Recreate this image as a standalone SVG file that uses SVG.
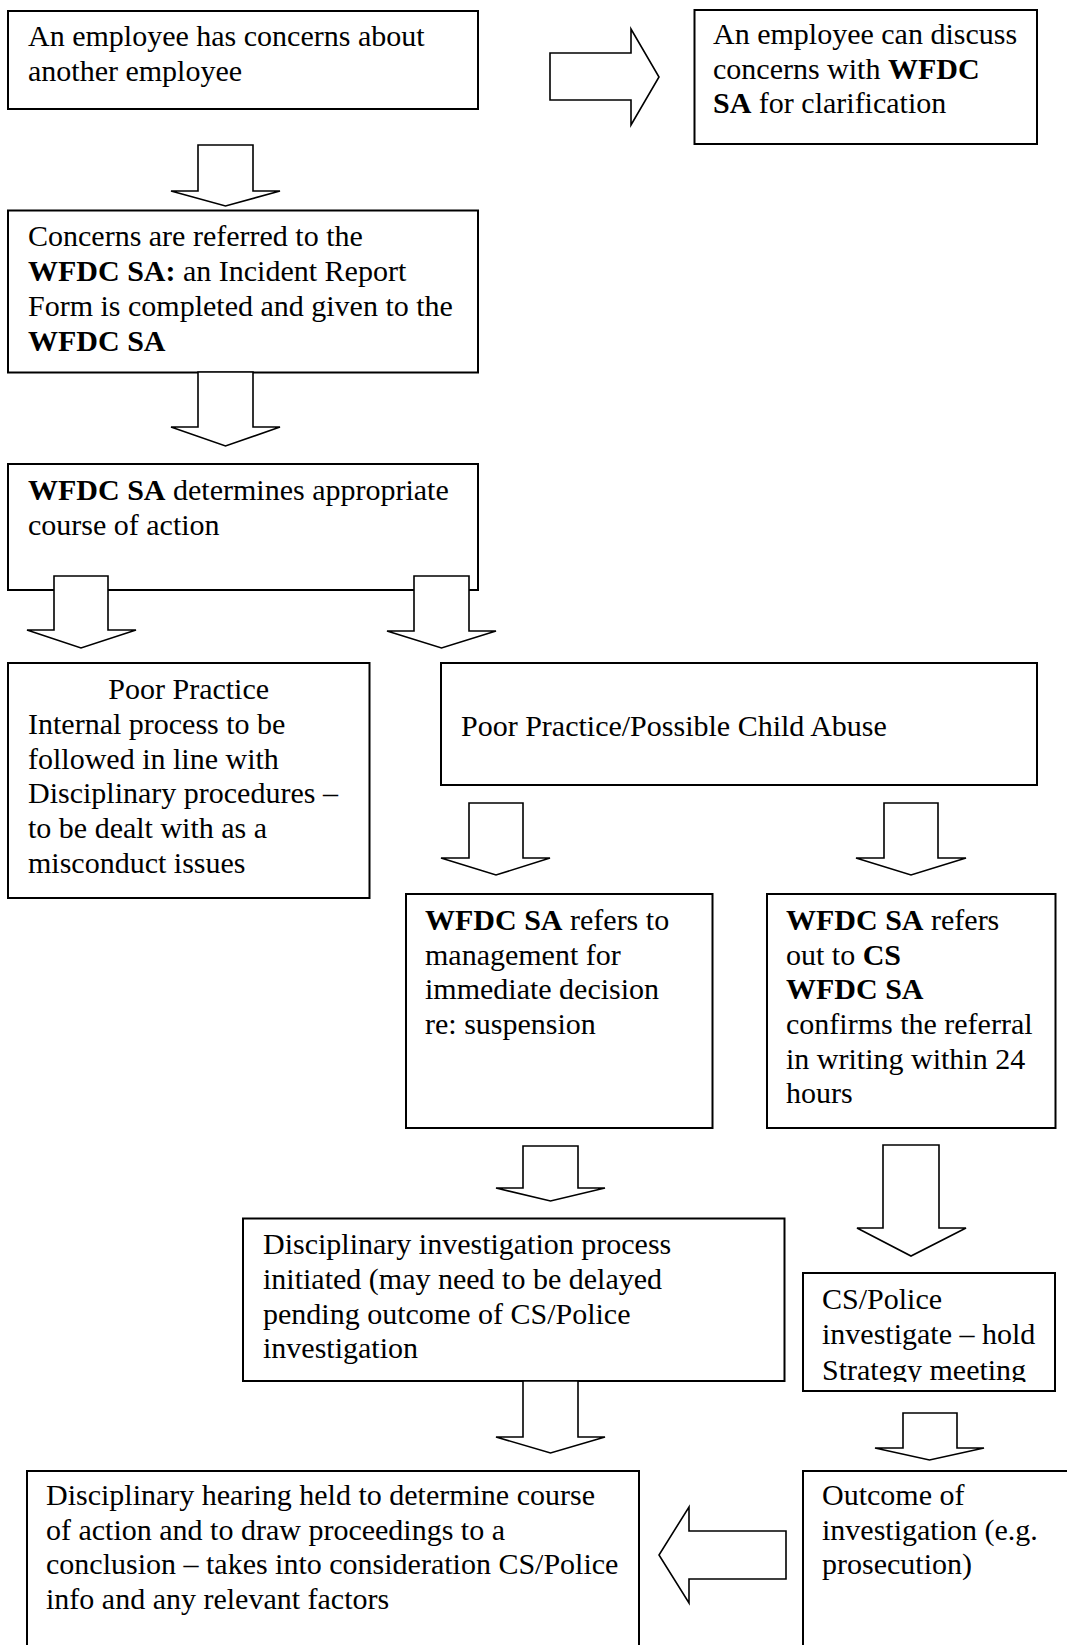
<svg xmlns="http://www.w3.org/2000/svg" width="1067" height="1645" viewBox="0 0 1067 1645">
<style>
.box{fill:#fff;stroke:#000;stroke-width:2}
.arr{fill:#fff;stroke:#000;stroke-width:1.6;stroke-linejoin:miter}
text{font-family:"Liberation Serif","Times New Roman",serif;font-size:30px;fill:#000}
.b{font-weight:bold}
</style>
<defs>
<clipPath id="clip10"><rect x="803" y="1273" width="252" height="109"/></clipPath>
</defs>
<rect width="1067" height="1645" fill="#fff"/>

<g id="n1">
<rect class="box" x="8" y="11" width="470" height="98"/>
<text x="28" y="46">An employee has concerns about</text>
<text x="28" y="81">another employee</text>
</g>

<g id="n2">
<rect class="box" x="694.5" y="10" width="342.5" height="134"/>
<text x="713" y="44">An employee can discuss</text>
<text x="713" y="79">concerns with <tspan class="b">WFDC</tspan></text>
<text x="713" y="113"><tspan class="b">SA</tspan> for clarification</text>
</g>

<g id="n3">
<rect class="box" x="8" y="210.5" width="470" height="162"/>
<text x="28" y="246">Concerns are referred to the</text>
<text x="28" y="281"><tspan class="b">WFDC SA:</tspan> an Incident Report</text>
<text x="28" y="316">Form is completed and given to the</text>
<text x="28" y="351" class="b">WFDC SA</text>
</g>

<g id="n4">
<rect class="box" x="8" y="464" width="470" height="126"/>
<text x="28" y="500"><tspan class="b">WFDC SA</tspan> determines appropriate</text>
<text x="28" y="535">course of action</text>
</g>

<g id="n5">
<rect class="box" x="8" y="663" width="361.5" height="235"/>
<text x="188.7" y="699" text-anchor="middle">Poor Practice</text>
<text x="28" y="734">Internal process to be</text>
<text x="28" y="769">followed in line with</text>
<text x="28" y="803">Disciplinary procedures –</text>
<text x="28" y="838">to be dealt with as a</text>
<text x="28" y="873">misconduct issues</text>
</g>

<g id="n6">
<rect class="box" x="441" y="663" width="596" height="122"/>
<text x="461" y="736">Poor Practice/Possible Child Abuse</text>
</g>

<g id="n7">
<rect class="box" x="406" y="894" width="306.5" height="234"/>
<text x="425" y="930"><tspan class="b">WFDC SA</tspan> refers to</text>
<text x="425" y="965">management for</text>
<text x="425" y="999">immediate decision</text>
<text x="425" y="1034">re: suspension</text>
</g>

<g id="n8">
<rect class="box" x="767" y="894" width="288.5" height="234"/>
<text x="786" y="930"><tspan class="b">WFDC SA</tspan> refers</text>
<text x="786" y="965">out to <tspan class="b">CS</tspan></text>
<text x="786" y="999" class="b">WFDC SA</text>
<text x="786" y="1034">confirms the referral</text>
<text x="786" y="1069">in writing within 24</text>
<text x="786" y="1103">hours</text>
</g>

<g id="n9">
<rect class="box" x="243" y="1218.5" width="541.5" height="162.5"/>
<text x="263" y="1254">Disciplinary investigation process</text>
<text x="263" y="1289">initiated (may need to be delayed</text>
<text x="263" y="1324">pending outcome of CS/Police</text>
<text x="263" y="1358">investigation</text>
</g>

<g id="n10">
<rect class="box" x="803" y="1273" width="252" height="118"/>
<g clip-path="url(#clip10)">
<text x="822" y="1309">CS/Police</text>
<text x="822" y="1344">investigate – hold</text>
<text x="822" y="1380">Strategy meeting</text>
</g>
</g>

<g id="n11">
<rect class="box" x="27" y="1471" width="612" height="200"/>
<text x="46" y="1505">Disciplinary hearing held to determine course</text>
<text x="46" y="1540">of action and to draw proceedings to a</text>
<text x="46" y="1574">conclusion – takes into consideration CS/Police</text>
<text x="46" y="1609">info and any relevant factors</text>
</g>

<g id="n12">
<rect class="box" x="803" y="1471" width="300" height="200"/>
<text x="822" y="1505">Outcome of</text>
<text x="822" y="1540">investigation (e.g.</text>
<text x="822" y="1574">prosecution)</text>
</g>

<g id="connectors">
<path class="arr" d="M550,53 L631,53 L631,29 L659,77 L631,125 L631,100 L550,100 Z"/>
<path class="arr" d="M198,145 L253,145 L253,191 L280,191 L225.5,206 L171,191 L198,191 Z"/>
<path class="arr" d="M198,372 L253,372 L253,427 L280,427 L225.5,446 L171,427 L198,427 Z"/>
<path class="arr" d="M54,576 L108,576 L108,630 L136,630 L81,648 L27,630 L54,630 Z"/>
<path class="arr" d="M414,576 L469,576 L469,631 L496,631 L441.5,648 L387,631 L414,631 Z"/>
<path class="arr" d="M469,803 L523,803 L523,858 L550,858 L496,875 L441,858 L469,858 Z"/>
<path class="arr" d="M884,803 L938,803 L938,858 L966,858 L911,875 L856,858 L884,858 Z"/>
<path class="arr" d="M523,1146 L578,1146 L578,1188 L605,1188 L550.5,1201 L496,1188 L523,1188 Z"/>
<path class="arr" d="M883,1145 L939,1145 L939,1228 L966,1228 L911,1256 L857,1228 L883,1228 Z"/>
<path class="arr" d="M523,1381 L578,1381 L578,1437 L605,1437 L550.5,1453 L496,1437 L523,1437 Z"/>
<path class="arr" d="M903,1413 L957,1413 L957,1448 L984,1448 L929.5,1460 L875,1448 L903,1448 Z"/>
<path class="arr" d="M786,1531 L689,1531 L689,1507 L659,1555 L689,1603 L689,1579 L786,1579 Z"/>
</g>
</svg>
